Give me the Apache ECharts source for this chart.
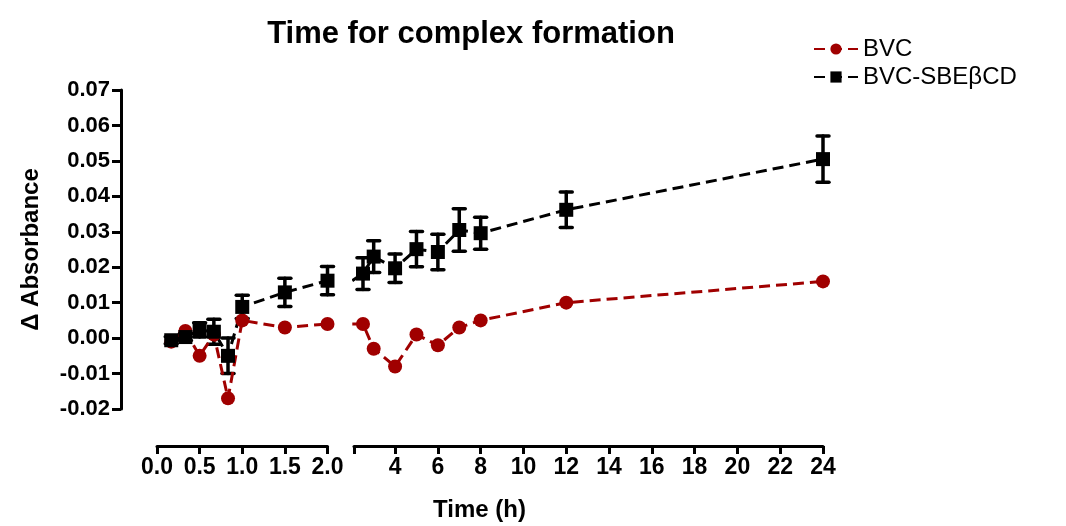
<!DOCTYPE html>
<html>
<head>
    <meta charset="utf-8">
    <title>Time for complex formation</title>
    <script src="https://cdn.jsdelivr.net/npm/echarts@6/dist/echarts.min.js"></script>
    <style>
        html, body { margin: 0; padding: 0; background: #fff; }
        #main { width: 1066px; height: 526px; }
    </style>
</head>
<body>
<div id="main"></div>
<script>
    // time points (h) and mean delta absorbance
    var times = [0.167, 0.333, 0.5, 0.667, 0.833, 1, 1.5, 2, 2.5, 3, 4, 5, 6, 7, 8, 12, 24];
    var bvc = [-0.001, 0.002, -0.005, 0.001, -0.017, 0.005, 0.003, 0.004, 0.004, -0.003, -0.008, 0.001, -0.002, 0.003, 0.005, 0.010, 0.016];
    var bvcSbe = [-0.0006, 0.0003, 0.0023, 0.0018, -0.005, 0.0088, 0.0129, 0.0162, 0.0182, 0.023, 0.0197, 0.0251, 0.0243, 0.0305, 0.0296, 0.0362, 0.0505];
    var bvcSbeErr = [0.001, 0.001, 0.002, 0.0035, 0.005, 0.0033, 0.004, 0.004, 0.0045, 0.0045, 0.004, 0.005, 0.005, 0.006, 0.0045, 0.005, 0.0065];

    // broken x axis: 0-2 h on the left, 2-24 h on the right
    var leftTicks = [0, 0.5, 1, 1.5, 2];
    var rightTicks = [4, 6, 8, 10, 12, 14, 16, 18, 20, 22, 24];
    var yTicks = [-0.02, -0.01, 0, 0.01, 0.02, 0.03, 0.04, 0.05, 0.06, 0.07];
    var breakAt = 2;
    var rightMin = 2.08;

    var red = '#a00000';
    var font = '"Liberation Sans", Arial, sans-serif';

    function lineData(vals, left) {
        var out = [];
        for (var i = 0; i < times.length; i++) {
            if (left && times[i] <= breakAt) out.push([times[i], vals[i]]);
            if (!left && times[i] >= breakAt) {
                if (times[i] < rightMin) out.push({value: [times[i], vals[i]], symbol: 'none'});
                else out.push([times[i], vals[i]]);
            }
        }
        return out;
    }
    function errData(left) {
        var out = [];
        for (var i = 0; i < times.length; i++) {
            var inside = left ? times[i] <= breakAt : times[i] > breakAt;
            if (inside) out.push([times[i], bvcSbe[i] - bvcSbeErr[i], bvcSbe[i] + bvcSbeErr[i]]);
        }
        return out;
    }
    function renderErr(params, api) {
        var x = api.value(0);
        var top = api.coord([x, api.value(2)]);
        var bot = api.coord([x, api.value(1)]);
        var w = 6;
        var st = {stroke: '#000', lineWidth: 3.5, lineCap: 'round'};
        return {
            type: 'group',
            children: [
                {type: 'line', shape: {x1: top[0], y1: top[1], x2: bot[0], y2: bot[1]}, style: st},
                {type: 'line', shape: {x1: top[0] - w, y1: top[1], x2: top[0] + w, y2: top[1]}, style: st},
                {type: 'line', shape: {x1: bot[0] - w, y1: bot[1], x2: bot[0] + w, y2: bot[1]}, style: st}
            ]
        };
    }

    var axisCommon = {
        type: 'value',
        axisLine: {show: true, onZero: false, lineStyle: {color: '#000', width: 3}},
        axisTick: {show: true, inside: false, length: 8, lineStyle: {color: '#000', width: 3}},
        splitLine: {show: false},
        axisLabel: {color: '#000', fontFamily: font, fontWeight: 'bold', fontSize: 22}
    };

    var myChart = echarts.init(document.getElementById('main'));
    var option = {
        animation: false,
        backgroundColor: '#fff',
        title: {
            text: 'Time for complex formation',
            left: 466, top: 14, textAlign: 'center',
            textStyle: {fontFamily: font, fontWeight: 'bold', fontSize: 31, color: '#000'}
        },
        legend: {
            orient: 'vertical',
            left: 808, top: 32,
            itemWidth: 44, itemHeight: 14, itemGap: 4,
            textStyle: {fontFamily: font, fontSize: 24, color: '#000'},
            data: ['BVC', 'BVC-SBE\u03b2CD']
        },
        grid: [
            {left: 157, width: 170.5, top: 90, height: 319},
            {left: 354, right: 243, top: 90, height: 319}
        ],
        xAxis: [
            Object.assign({}, axisCommon, {
                gridIndex: 0, min: 0, max: breakAt, interval: 0.5, offset: 37,
                axisTick: Object.assign({}, axisCommon.axisTick, {customValues: leftTicks}),
                axisLabel: Object.assign({}, axisCommon.axisLabel, {
                    margin: 10, fontSize: 23, customValues: leftTicks,
                    formatter: function (v) { return v.toFixed(1); }
                })
            }),
            Object.assign({}, axisCommon, {
                gridIndex: 1, min: rightMin, max: 24, offset: 37,
                axisTick: Object.assign({}, axisCommon.axisTick, {customValues: [rightMin].concat(rightTicks)}),
                axisLabel: Object.assign({}, axisCommon.axisLabel, {margin: 10, fontSize: 23, customValues: rightTicks})
            })
        ],
        yAxis: [
            Object.assign({}, axisCommon, {
                gridIndex: 0, min: -0.02, max: 0.07, interval: 0.01, offset: 36,
                axisTick: Object.assign({}, axisCommon.axisTick, {length: 9, customValues: yTicks}),
                axisLabel: Object.assign({}, axisCommon.axisLabel, {
                    margin: 11, customValues: yTicks,
                    formatter: function (v) { return v.toFixed(2); }
                }),
                name: '\u0394 Absorbance',
                nameLocation: 'middle', nameGap: 78,
                nameTextStyle: {fontFamily: font, fontWeight: 'bold', fontSize: 24, color: '#000'}
            }),
            {type: 'value', gridIndex: 1, min: -0.02, max: 0.07, show: false}
        ],
        graphic: [{
            type: 'text', left: 433, top: 498,
            style: {text: 'Time (h)', font: 'bold 24px ' + font, fill: '#000'}
        }],
        series: [
            {
                name: 'BVC', type: 'line', xAxisIndex: 0, yAxisIndex: 0, clip: true,
                data: lineData(bvc, true),
                symbol: 'circle', symbolSize: 14,
                itemStyle: {color: red},
                lineStyle: {color: red, width: 3, type: [11, 6]}
            },
            {
                name: 'BVC', type: 'line', xAxisIndex: 1, yAxisIndex: 1, clip: true,
                data: lineData(bvc, false),
                symbol: 'circle', symbolSize: 14,
                itemStyle: {color: red},
                lineStyle: {color: red, width: 3, type: [11, 6]}
            },
            {
                name: 'BVC-SBE\u03b2CD', type: 'line', xAxisIndex: 0, yAxisIndex: 0, clip: true,
                data: lineData(bvcSbe, true),
                symbol: 'rect', symbolSize: 14,
                itemStyle: {color: '#000'},
                lineStyle: {color: '#000', width: 3, type: [11, 6]}
            },
            {
                name: 'BVC-SBE\u03b2CD', type: 'line', xAxisIndex: 1, yAxisIndex: 1, clip: true,
                data: lineData(bvcSbe, false),
                symbol: 'rect', symbolSize: 14,
                itemStyle: {color: '#000'},
                lineStyle: {color: '#000', width: 3, type: [11, 6]}
            },
            {
                type: 'custom', xAxisIndex: 0, yAxisIndex: 0, clip: false,
                data: errData(true), renderItem: renderErr
            },
            {
                type: 'custom', xAxisIndex: 1, yAxisIndex: 1, clip: false,
                data: errData(false), renderItem: renderErr
            }
        ]
    };
    myChart.setOption(option);
</script>
</body>
</html>
